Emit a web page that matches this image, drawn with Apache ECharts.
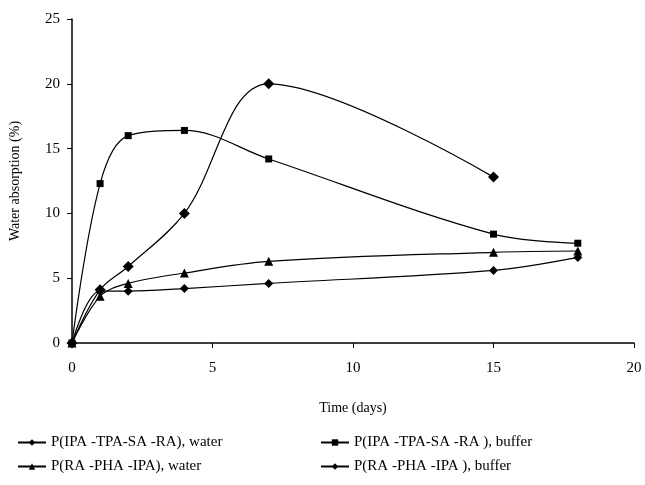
<!DOCTYPE html>
<html><head><meta charset="utf-8">
<script src="https://cdn.jsdelivr.net/npm/echarts@6/dist/echarts.min.js"></script>
<style>html,body{margin:0;padding:0;background:#fff}#c{width:645px;height:485px}</style>
</head><body><div id="c"></div>
<script>
const xTicks = [0, 5, 10, 15, 20];
const yTicks = [0, 5, 10, 15, 20, 25];
const days = [0, 1, 2, 4, 7, 15, 18];
const tpaWater = [0, 4.0, 4.0, 4.2, 4.6, 5.6, 6.6];
const tpaBuffer = [0, 12.3, 16.0, 16.4, 14.2, 8.4, 7.7];
const phaWater = [0, 3.6, 4.6, 5.4, 6.3, 7.0, 7.1];
const phaBufferDays = [0, 1, 2, 4, 7, 15];
const phaBuffer = [0, 4.1, 5.9, 10.0, 20.0, 12.8];

const names = ['P(IPA -TPA-SA -RA), water', 'P(IPA -TPA-SA -RA ), buffer', 'P(RA -PHA -IPA), water', 'P(RA -PHA -IPA ), buffer'];
function pts(xs, ys){ return xs.map((x,i)=>[x, ys[i]]); }
const font = 'Liberation Serif';
function mk(name, xs, ys, symbol, size){
  return {name, type:'line', data: pts(xs, ys), smooth: 0.35, symbol, symbolSize: size,
    itemStyle:{color:'#000'}, lineStyle:{color:'#000', width:1.2}, z: 3};
}
const chart = echarts.init(document.getElementById('c'));
chart.setOption({
  animation:false,
  backgroundColor:'#fff',
  grid:{left:70, right:11, top:19, bottom:142},
  xAxis:{type:'value', min:0, max:20, interval:5,
    name:'Time (days)', nameLocation:'middle', nameGap:58,
    nameTextStyle:{fontFamily:font, fontSize:14, color:'#000'},
    axisLine:{show:true, lineStyle:{color:'#000', width:1.5}},
    axisTick:{show:true, inside:false, length:5, lineStyle:{color:'#000'}},
    axisLabel:{fontFamily:font, fontSize:15, color:'#000', margin:18},
    splitLine:{show:false}},
  yAxis:{type:'value', min:0, max:25, interval:5,
    name:'Water absorption (%)', nameLocation:'middle', nameGap:50, nameRotate:90,
    nameTextStyle:{fontFamily:font, fontSize:14, color:'#000'},
    axisLine:{show:true, lineStyle:{color:'#000', width:1.5}},
    axisTick:{show:true, inside:false, length:5, lineStyle:{color:'#000'}},
    axisLabel:{fontFamily:font, fontSize:15, color:'#000', margin:12},
    splitLine:{show:false}},
  legend:[
    {data:[names[0], names[2]], orient:'vertical', left:12, top:430, itemGap:9, itemWidth:28, itemHeight:8,
      textStyle:{fontFamily:font, fontSize:15, color:'#000'}},
    {data:[names[1], names[3]], orient:'vertical', left:315, top:430, itemGap:9, itemWidth:28, itemHeight:8,
      textStyle:{fontFamily:font, fontSize:15, color:'#000'}}
  ],
  series:[
    mk(names[0], days, tpaWater, 'diamond', 9),
    mk(names[1], days, tpaBuffer, 'rect', 7),
    mk(names[2], days, phaWater, 'triangle', 9),
    mk(names[3], phaBufferDays, phaBuffer, 'diamond', 11)
  ]
});
</script></body></html>
